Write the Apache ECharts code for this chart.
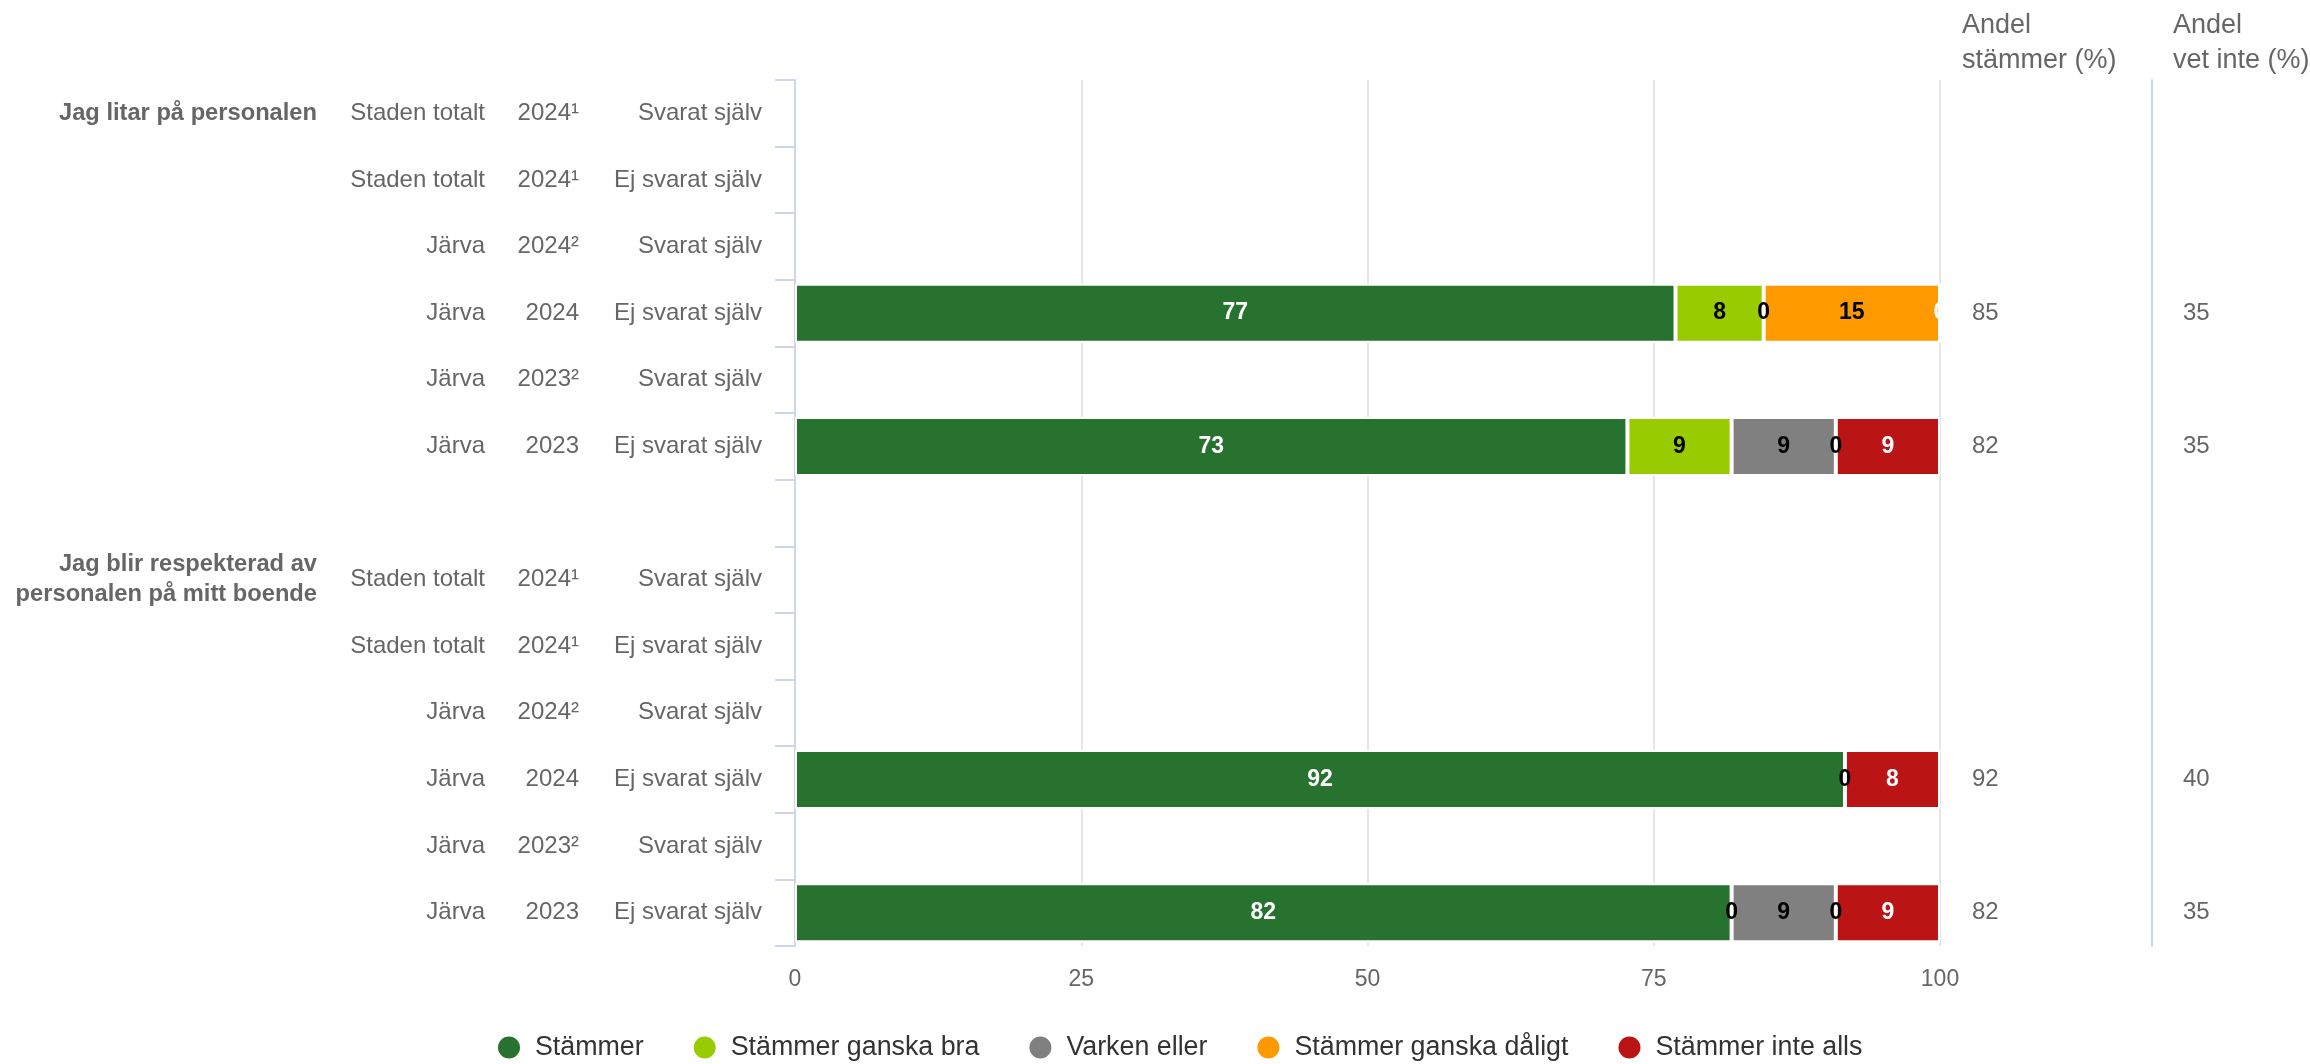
<!DOCTYPE html>
<html>
<head>
<meta charset="utf-8">
<script src="https://cdn.jsdelivr.net/npm/echarts@6/dist/echarts.min.js"></script>
<style>
  html, body { margin: 0; padding: 0; background: #fff; }
  #chart { width: 2310px; height: 1064px; }
</style>
</head>
<body>
<div id="chart"></div>
<script>
  // rader (uppifrån och ned), tom rad mellan frågorna
  var fragor = ['Jag litar på personalen', '', '', '', '', '', '',
    'Jag blir respekterad av\npersonalen på mitt boende', '', '', '', '', '']
  var omraden = ['Staden totalt', 'Staden totalt', 'Järva', 'Järva', 'Järva', 'Järva', '',
    'Staden totalt', 'Staden totalt', 'Järva', 'Järva', 'Järva', 'Järva']
  var ar = ['2024¹', '2024¹', '2024²', '2024', '2023²', '2023', '',
    '2024¹', '2024¹', '2024²', '2024', '2023²', '2023']
  var svarat = ['Svarat själv', 'Ej svarat själv', 'Svarat själv', 'Ej svarat själv', 'Svarat själv', 'Ej svarat själv', '',
    'Svarat själv', 'Ej svarat själv', 'Svarat själv', 'Ej svarat själv', 'Svarat själv', 'Ej svarat själv']

  var serieNamn = ['Stämmer', 'Stämmer ganska bra', 'Varken eller', 'Stämmer ganska dåligt', 'Stämmer inte alls']
  var farger = ['#26722e', '#99cc00', '#808080', '#ff9900', '#bb1414']
  var etikettFarg = ['#fff', '#000', '#000', '#000', '#fff']

  var stammer = [null, null, null, 76.9, null, 72.7, null, null, null, null, 91.7, null, 81.8]
  var ganskaBra = [null, null, null, 7.7, null, 9.1, null, null, null, null, 0, null, 0]
  var varken = [null, null, null, 0, null, 9.1, null, null, null, null, null, null, 9.1]
  var ganskaDaligt = [null, null, null, 15.4, null, 0, null, null, null, null, null, null, 0]
  var inteAlls = [null, null, null, 0, null, 9.1, null, null, null, null, 8.3, null, 9.1]
  var serieData = [stammer, ganskaBra, varken, ganskaDaligt, inteAlls]

  var andelStammer = ['', '', '', '85', '', '82', '', '', '', '', '92', '', '82']
  var andelVetInte = ['', '', '', '35', '', '35', '', '', '', '', '40', '', '35']

  var xTicks = [0, 25, 50, 75, 100]

  var font = "'Liberation Sans', Arial, sans-serif"
  var gra = '#666666'
  var axelBla = '#ccd6eb'

  var chart = echarts.init(document.getElementById('chart'))

  function etikettAxel(data, margin, extra) {
    var ax = {
      type: 'category',
      data: data,
      inverse: true,
      position: 'left',
      axisLine: { show: false },
      axisTick: { show: false },
      splitLine: { show: false },
      axisLabel: {
        interval: 0,
        margin: margin,
        color: gra,
        fontSize: 24,
        fontFamily: font,
        padding: [6, 0, 0, 0]
      }
    }
    if (extra) Object.assign(ax.axisLabel, extra)
    return ax
  }

  var yAxes = [
    {
      type: 'category',
      data: svarat,
      inverse: true,
      position: 'left',
      axisLine: { show: true, lineStyle: { color: axelBla, width: 2 } },
      axisTick: { show: true, length: 20, lineStyle: { color: axelBla, width: 2 } },
      splitLine: { show: false },
      axisLabel: { interval: 0, margin: 33, color: gra, fontSize: 24, fontFamily: font, padding: [6, 0, 0, 0] }
    },
    etikettAxel(ar, 216),
    etikettAxel(omraden, 310),
    etikettAxel(fragor, 478, { fontWeight: 'bold', fontSize: 23.7, lineHeight: 30, padding: [16, 0, 0, 0] }),
    {
      type: 'category',
      data: andelStammer,
      inverse: true,
      position: 'right',
      axisLine: { show: false },
      axisTick: { show: false },
      axisLabel: { interval: 0, margin: 32, color: gra, fontSize: 24, fontFamily: font, padding: [6, 0, 0, 0] }
    },
    {
      type: 'category',
      data: andelVetInte,
      inverse: true,
      position: 'right',
      offset: 212,
      axisLine: { show: true, lineStyle: { color: axelBla, width: 2 } },
      axisTick: { show: false },
      axisLabel: { interval: 0, margin: 31, color: gra, fontSize: 24, fontFamily: font, padding: [6, 0, 0, 0] }
    }
  ]

  var series = serieNamn.map(function (namn, i) {
    return {
      name: namn,
      type: 'bar',
      stack: 'total',
      yAxisIndex: 0,
      barWidth: 59,
      data: serieData[i],
      itemStyle: { color: farger[i], borderColor: '#fff', borderWidth: 2 },
      label: {
        show: true,
        position: 'inside',
        color: etikettFarg[i],
        fontSize: 23,
        fontWeight: 'bold',
        fontFamily: font,
        padding: [4, 0, 0, 0],
        formatter: function (p) { return Math.round(p.value) }
      }
    }
  })

  var option = {
    animation: false,
    backgroundColor: '#fff',
    grid: { left: 795, right: 370, top: 80, bottom: 118 },
    xAxis: {
      type: 'value',
      min: xTicks[0],
      max: xTicks[xTicks.length - 1],
      interval: 25,
      axisLine: { show: false },
      axisTick: { show: false },
      splitLine: { show: true, lineStyle: { color: '#e6e6e6', width: 2 } },
      axisLabel: { margin: 22, color: gra, fontSize: 23, fontFamily: font }
    },
    yAxis: yAxes,
    legend: {
      left: 496,
      top: 1034,
      padding: 0,
      icon: 'circle',
      itemWidth: 24,
      itemHeight: 24,
      itemGap: 48,
      textStyle: { color: '#333', fontSize: 26.8, fontFamily: font, padding: [0, 0, 0, 9] },
      data: serieNamn
    },
    graphic: [
      {
        type: 'text',
        left: 1962,
        top: 8,
        style: { text: 'Andel\nstämmer (%)', fill: gra, font: '27px ' + font, lineHeight: 35 }
      },
      {
        type: 'text',
        left: 2173,
        top: 8,
        style: { text: 'Andel\nvet inte (%)', fill: gra, font: '27px ' + font, lineHeight: 35 }
      }
    ],
    series: series
  }

  chart.setOption(option)
</script>
</body>
</html>
